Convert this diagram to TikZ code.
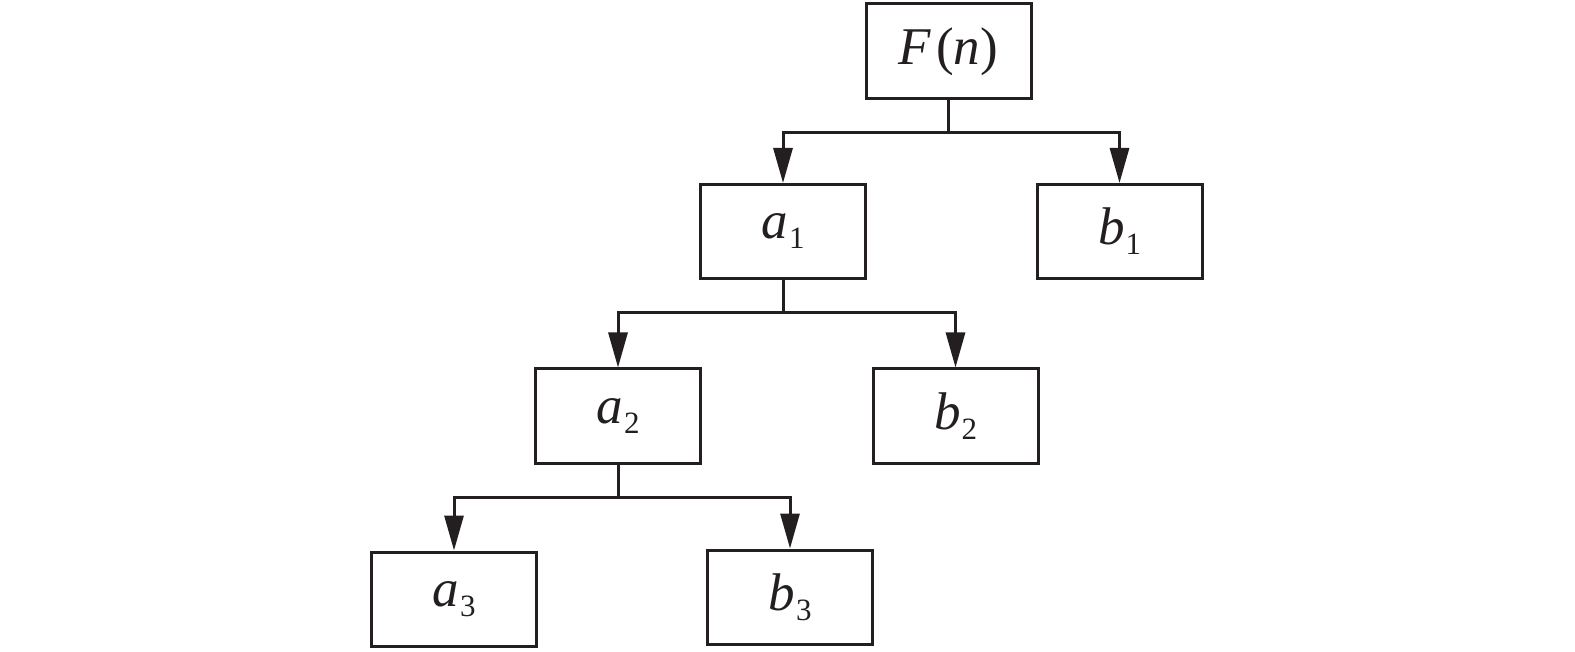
\documentclass[tikz,border=0pt]{standalone}
\usepackage{fontspec}
\setmainfont{Liberation Serif}
\usetikzlibrary{arrows.meta}
\definecolor{ink}{RGB}{35,31,32}
\newcommand{\vsub}[2]{\raisebox{-5pt}{{\itshape #1}\kern1pt\raisebox{-10pt}{\fontsize{31}{33}\selectfont #2}}}
\tikzset{
  box/.style={draw=ink, text=ink, line width=3pt, minimum width=165pt, minimum height=94pt, inner sep=0pt,
    font=\fontsize{53}{60}\selectfont},
  arr/.style={draw=ink, line width=3pt, -{Triangle[length=35pt,width=19pt]}}
}
\begin{document}
\begin{tikzpicture}[x=1pt,y=-1pt]
\useasboundingbox (0,0) rectangle (1575,652);
\node[box, minimum height=95pt] (F) at (948.5,51.5) {\raisebox{-2pt}{{\itshape F}\kern5pt({\itshape n})}};
\node[box] (a1) at (783,231.5) {\vsub{a}{1}};
\node[box] (b1) at (1119.5,231.5) {\vsub{b}{1}};
\node[box] (a2) at (618,416) {\vsub{a}{2}};
\node[box] (b2) at (955.5,416) {\vsub{b}{2}};
\node[box] (a3) at (454,599) {\vsub{a}{3}};
\node[box] (b3) at (790,597) {\vsub{b}{3}};
\draw[arr] (F.south) -- ++(0,32) -| (a1.north);
\draw[arr] (F.south) -- ++(0,32) -| (b1.north);
\draw[arr] (a1.south) -- ++(0,33) -| (a2.north);
\draw[arr] (a1.south) -- ++(0,33) -| (b2.north);
\draw[arr] (a2.south) -- ++(0,33) -| (a3.north);
\draw[arr] (a2.south) -- ++(0,33) -| (b3.north);
\end{tikzpicture}
\end{document}
